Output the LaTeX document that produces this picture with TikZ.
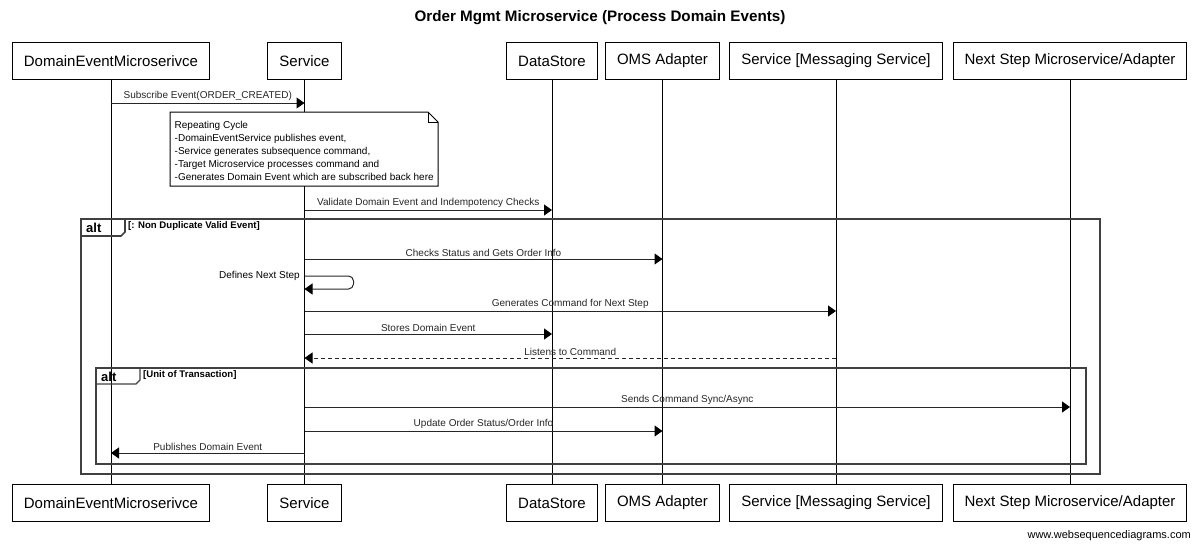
\documentclass[tikz,border=0pt]{standalone}
\usepackage{fontspec}
\setmainfont{Liberation Sans}
\usetikzlibrary{arrows.meta}
\tikzstyle{actor} = [draw, line width=1pt, minimum height=37pt, inner xsep=11.5pt, font=\fontsize{15}{18}\selectfont]
\tikzstyle{line} = [draw, line width=1pt, black!85, -{Triangle[length=8pt,width=11pt,color=black]}]
\tikzstyle{reply} = [line, dashed, dash pattern=on 4pt off 3pt]
\tikzstyle{lbl} = [font=\fontsize{10}{12}\selectfont, inner sep=1.5pt]
\tikzstyle{frame} = [draw, black!75, line width=1.6pt]
\tikzstyle{guard} = [font=\bfseries\fontsize{9.6}{11}\selectfont, inner sep=1pt, anchor=north west]

\begin{document}
\begin{tikzpicture}[x=1pt, y=-1pt]
\useasboundingbox (0,0) rectangle (1200,547);
\node[font=\bfseries\fontsize{15.2}{18}\selectfont] (title) at (600,18) {Order Mgmt Microservice (Process Domain Events)};
% participants
\node[actor] (dem) at (111,61) {DomainEventMicroserivce};
\node[actor] (svc) at (304.5,61) {Service};
\node[actor] (ds) at (552,61) {DataStore};
\node[actor] (oms) at (662.5,61) {OMS Adapter};
\node[actor] (msv) at (836,61) {Service [Messaging Service]};
\node[actor] (nxt) at (1070,61) {Next Step Microservice/Adapter};
\node[actor] (dem2) at (111,503) {DomainEventMicroserivce};
\node[actor] (svc2) at (304.5,503) {Service};
\node[actor] (ds2) at (552,503) {DataStore};
\node[actor] (oms2) at (662.5,503) {OMS Adapter};
\node[actor] (msv2) at (836,503) {Service [Messaging Service]};
\node[actor] (nxt2) at (1070,503) {Next Step Microservice/Adapter};
% lifelines
\draw[line width=1pt] (dem.south) -- (dem2.north);
\draw[line width=1pt] (svc.south) -- (svc2.north);
\draw[line width=1pt] (ds.south) -- (ds2.north);
\draw[line width=1pt] (oms.south) -- (oms2.north);
\draw[line width=1pt] (msv.south) -- (msv2.north);
\draw[line width=1pt] (nxt.south) -- (nxt2.north);
% frames
\draw[frame] (81,219) rectangle (1100,474);
\draw[frame] (81,236) -- (121,236) -- (125,232) -- (125,219);
\node[anchor=west, font=\bfseries\fontsize{13}{15}\selectfont, inner sep=0pt] (alt1) at (86,228) {alt};
\node[guard] (g1) at (127,220.5) {[: Non Duplicate Valid Event]};
\draw[frame, line width=1.4pt] (96,368) rectangle (1086,464);
\draw[frame, line width=1.4pt] (96,384) -- (136,384) -- (140,380) -- (140,368);
\node[anchor=west, font=\bfseries\fontsize{13}{15}\selectfont, inner sep=0pt] (alt2) at (101,377) {alt};
\node[guard] (g2) at (142,369.5) {[Unit of Transaction]};
% messages
\draw[line] (dem |- 0,103) -- node[lbl, above] {Subscribe Event(ORDER\_CREATED)} (svc |- 0,103);
\draw[line width=1pt, fill=white] (170,112) -- (428,112) -- (438,122) -- (438,186) -- (170,186) -- cycle;
\draw[line width=1pt] (428,112) -- (428,122) -- (438,122);
\node[lbl, anchor=north west, align=left, font=\fontsize{10}{13}\selectfont] (note) at (173,120)
  {Repeating Cycle\\-DomainEventService publishes event,\\-Service generates subsequence command,\\-Target Microservice processes command and\\-Generates Domain Event which are subscribed back here};
\draw[line] (svc |- 0,210) -- node[lbl, above] {Validate Domain Event and Indempotency Checks} (ds |- 0,210);
\draw[line] (svc |- 0,259) -- node[lbl, above] {Checks Status and Gets Order Info} (oms |- 0,259);
\draw[line, rounded corners=5pt] (svc |- 0,276) -- ++(49,0) -- ++(0,13) -- (svc |- 0,289);
\node[lbl, anchor=east] (loop) at ([xshift=-3pt]svc |- 0,276) {Defines Next Step};
\draw[line] (svc |- 0,311) -- node[lbl, above] {Generates Command for Next Step} (msv |- 0,311);
\draw[line] (svc |- 0,334) -- node[lbl, above] {Stores Domain Event} (ds |- 0,334);
\draw[reply] (msv |- 0,358) -- node[lbl, above] {Listens to Command} (svc |- 0,358);
\draw[line] (svc |- 0,407) -- node[lbl, above] {Sends Command Sync/Async} (nxt |- 0,407);
\draw[line] (svc |- 0,431) -- node[lbl, above] {Update Order Status/Order Info} (oms |- 0,431);
\draw[line] (svc |- 0,453) -- node[lbl, above] {Publishes Domain Event} (dem |- 0,453);
\node[anchor=east, font=\fontsize{11}{13}\selectfont, inner sep=0pt] (site) at (1191,536) {www.websequencediagrams.com};
\end{tikzpicture}
\end{document}
